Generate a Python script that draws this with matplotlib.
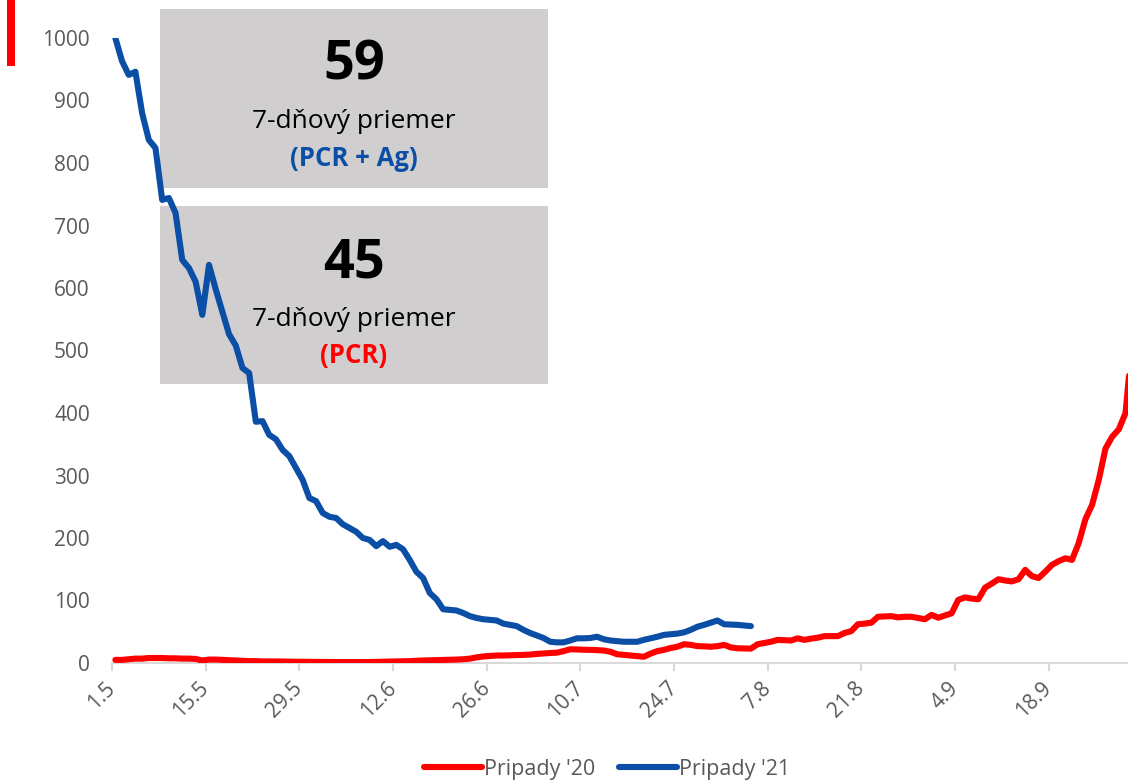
import numpy as np
import matplotlib
matplotlib.use("Agg")
import matplotlib.pyplot as plt
from matplotlib.patches import Rectangle
from matplotlib.lines import Line2D

OUTPUT_PATH = "out.png"

# x-axis tick labels (every 14 days, starting 1 May)
tick_labels = ["1.5", "15.5", "29.5", "12.6", "26.6", "10.7",
               "24.7", "7.8", "21.8", "4.9", "18.9"]

# 7-day average of cases, 2020 (from 1 May)
cases_2020 = [
    5, 5, 6, 7, 7, 8, 8, 8, 7.5, 7.5, 7, 7, 6.5, 4, 5.5, 5.5, 5, 4.5, 4, 3.5,
    3, 3, 2.5, 2.5, 2.5, 2.3, 2.2, 2, 2, 1.8, 1.7, 1.6, 1.5, 1.5, 1.5, 1.5,
    1.5, 1.5, 1.5, 1.8, 2, 2.3, 2.5, 2.8, 3, 3.5, 4, 4.3, 4.6, 5, 5.2, 5.5,
    6, 7, 9, 10.5, 11.3, 12, 12, 12.3, 12.6, 13, 13.5, 14.5, 15.3, 16, 16.5,
    19, 22, 21.7, 21.2, 21, 20.6, 20, 18, 14, 13, 12, 11, 10, 15, 19, 21, 24,
    26, 30, 29, 27, 26.7, 26, 27, 29, 25, 23.5, 23.3, 23, 30, 32, 34, 37,
    36.5, 36, 39.5, 37, 39, 40.5, 43, 43, 43, 48, 51, 62, 63, 64.5, 74, 74.5,
    75, 73, 74, 74, 72, 70, 77, 72.5, 76, 79.5, 101, 105, 103, 102, 120.5,
    127, 134, 132, 130.5, 134, 149, 139, 136, 146, 157, 163, 167.5, 165, 192,
    230, 253, 293, 343, 362, 374, 400, 515,
]

# 7-day average of cases, 2021 (PCR + Ag, from 1 May)
cases_2021 = [
    1000, 963, 941, 946, 880, 837, 824, 741, 744, 720, 645, 632, 610, 557,
    637, 598, 562, 526, 508, 472, 464, 386, 387, 365, 358, 341, 331, 312,
    293, 264, 259, 240, 234, 232, 222, 216, 210, 200, 197, 187, 195, 186,
    189, 182, 165, 146, 136, 112, 102, 86, 85, 84, 80, 75, 72, 70, 69, 68,
    63, 61, 59, 53, 48, 44, 40, 34, 33, 33, 36, 39.5, 39.5, 40, 42, 38, 36,
    35, 34, 34, 34, 37, 39.5, 42, 45, 46, 47, 49, 53, 58, 61, 64.5, 68, 62,
    61.5, 61, 60, 59,
]

box_values = ["59", "45"]
box_notes = ["(PCR + Ag)", "(PCR)"]

RED = "#FF0000"
BLUE = "#0B4EA6"
GREY_TEXT = "#595959"
AXIS_GREY = "#D9D9D9"
BOX_GREY = "#D0CECE"

plt.rcParams["font.family"] = ["Open Sans", "DejaVu Sans"]


def main():
    W, H = 1128, 783
    fig = plt.figure(figsize=(W / 100, H / 100), dpi=100)
    ax = fig.add_axes([112 / W, 1 - 663 / H, 1 - 112 / W, (663 - 38) / H])

    x20 = np.arange(len(cases_2020)) + 0.5
    x21 = np.arange(len(cases_2021)) + 0.5
    ax.plot(x20, cases_2020, color=RED, lw=4.4, solid_joinstyle="round",
            solid_capstyle="round", zorder=3)
    ax.plot(x21, cases_2021, color=BLUE, lw=4.4, solid_joinstyle="round",
            solid_capstyle="round", zorder=4)

    ax.set_xlim(0, (W - 112) / 6.69)
    ax.set_ylim(0, 1000)

    ax.set_yticks(np.arange(0, 1001, 100))
    ax.tick_params(axis="y", length=0, pad=16, labelsize=15, labelcolor=GREY_TEXT)

    ax.set_xticks(np.arange(len(tick_labels)) * 14)
    ax.set_xticklabels(tick_labels, rotation=45, ha="right", va="center",
                       rotation_mode="anchor")
    ax.tick_params(axis="x", length=6, width=1.5, color=AXIS_GREY, pad=10,
                   labelsize=15, labelcolor=GREY_TEXT)

    for s in ["left", "top", "right"]:
        ax.spines[s].set_visible(False)
    ax.spines["bottom"].set_color(AXIS_GREY)
    ax.spines["bottom"].set_linewidth(1.5)

    # grey info boxes
    boxes = [(9, 188), (206, 384)]
    note_colors = [BLUE, RED]
    for (top, bottom), val, note, nc in zip(boxes, box_values, box_notes, note_colors):
        rect = Rectangle((160 / W, 1 - bottom / H), (548 - 160) / W, (bottom - top) / H,
                         transform=fig.transFigure, facecolor=BOX_GREY,
                         edgecolor="none", zorder=1, clip_on=False)
        ax.add_patch(rect)
        cx = 354 / W
        fig.text(cx, 1 - (top + 57) / H, val, ha="center", va="center",
                 fontsize=39, fontweight="bold", color="black", zorder=5)
        fig.text(cx, 1 - (top + 113) / H, "7-dňový priemer", ha="center",
                 va="center", fontsize=19, color="black", zorder=5)
        fig.text(cx, 1 - (top + 150) / H, note, ha="center", va="center",
                 fontsize=18.5, fontweight="bold", color=nc, zorder=5)

    # red accent bar top-left
    fig.patches.append(Rectangle((7 / W, 1 - 66 / H), 8 / W, 66 / H,
                                 transform=fig.transFigure, facecolor=RED,
                                 edgecolor="none"))

    handles = [Line2D([], [], color=RED, lw=4.4, solid_capstyle="round"),
               Line2D([], [], color=BLUE, lw=4.4, solid_capstyle="round")]
    leg = fig.legend(handles, ["Pripady '20", "Pripady '21"], loc="center",
                     bbox_to_anchor=(607 / W, 1 - 769 / H), ncol=2,
                     frameon=False, fontsize=15.5, handlelength=2.7,
                     handletextpad=0.1, columnspacing=1.1)
    for t in leg.get_texts():
        t.set_color(GREY_TEXT)

    fig.savefig(OUTPUT_PATH, dpi=100)
    plt.close(fig)


if __name__ == "__main__":
    main()
